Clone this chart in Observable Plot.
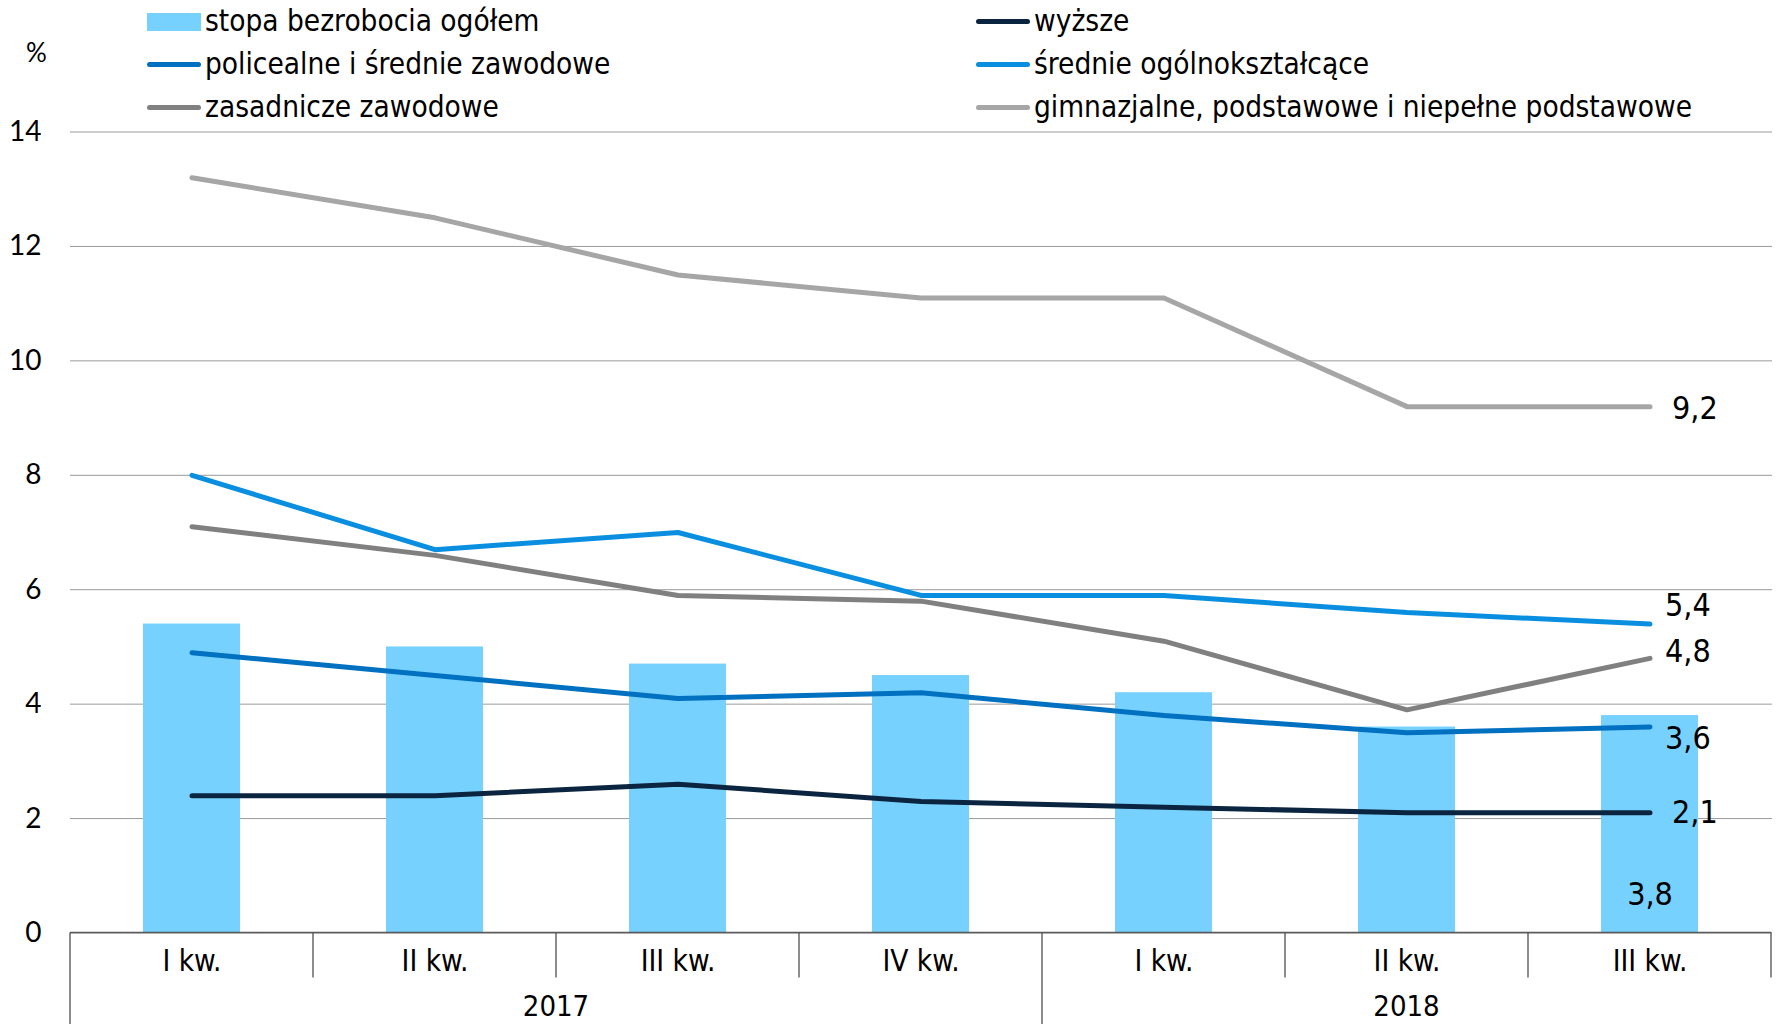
<!DOCTYPE html>
<html><head><meta charset="utf-8">
<script src="https://cdn.jsdelivr.net/npm/d3@7"></script>
<script src="https://cdn.jsdelivr.net/npm/@observablehq/plot@0.6"></script>
<style>
body{margin:0;background:#fff;}
#wrap{position:relative;width:1779px;height:1024px;font-family:"Liberation Sans Narrow","DejaVu Sans Condensed","DejaVu Sans",sans-serif;font-stretch:condensed;color:#000;}
#legend{position:relative;height:118px;}
.item{position:absolute;height:43px;line-height:43px;font-size:29.5px;white-space:nowrap;display:flex;align-items:center;}
.sw{display:inline-block;width:54px;margin-right:4px;}
.sw.bar{height:18px;}
.sw.line{height:5px;border-radius:3px;}
#pct{position:absolute;left:26px;top:36px;font-size:26px;font-family:Lato,"DejaVu Sans",sans-serif;}
#chart svg{display:block;}
</style></head><body>
<div id="wrap"><div id="legend"></div><div id="pct">%</div><div id="chart"></div></div>
<script>
const quarters = ["I kw.","II kw.","III kw.","IV kw.","I kw.","II kw.","III kw."];
const years = ["2017","2017","2017","2017","2018","2018","2018"];
const total = [5.4,5.0,4.7,4.5,4.2,3.6,3.8];
const wyzsze = [2.4,2.4,2.6,2.3,2.2,2.1,2.1];
const policealne = [4.9,4.5,4.1,4.2,3.8,3.5,3.6];
const srednieOgolne = [8.0,6.7,7.0,5.9,5.9,5.6,5.4];
const zasadnicze = [7.1,6.6,5.9,5.8,5.1,3.9,4.8];
const gimnazjalne = [13.2,12.5,11.5,11.1,11.1,9.2,9.2];
const yTicks = [0,2,4,6,8,10,12,14];

const barName = "stopa bezrobocia ogółem";
const seriesNames = ["wyższe","policealne i średnie zawodowe","średnie ogólnokształcące","zasadnicze zawodowe","gimnazjalne, podstawowe i niepełne podstawowe"];
const seriesValues = [wyzsze, policealne, srednieOgolne, zasadnicze, gimnazjalne];
const seriesColors = ["#0B2540","#0070C0","#0A8FE0","#808080","#A6A6A6"];
const barColor = "#77D1FF";

const keys = quarters.map((q,i)=>years[i]+"|"+q);
const bars = keys.map((k,i)=>({key:k, value:total[i]}));
const lines = seriesNames.flatMap((s,j)=>keys.map((k,i)=>({key:k, series:s, value:seriesValues[j][i]})));
const last = (j)=>({key:keys[keys.length-1], value:seriesValues[j][keys.length-1]});
const fmt = v => v.toFixed(1).replace(".", ",");

// legend
const legendItems = [
  {name:barName, color:barColor, bar:true, col:0, row:0},
  {name:seriesNames[0], color:seriesColors[0], col:1, row:0},
  {name:seriesNames[1], color:seriesColors[1], col:0, row:1},
  {name:seriesNames[2], color:seriesColors[2], col:1, row:1},
  {name:seriesNames[3], color:seriesColors[3], col:0, row:2},
  {name:seriesNames[4], color:seriesColors[4], col:1, row:2},
];
const colX = [147, 976];
const leg = document.getElementById("legend");
for (const it of legendItems) {
  const d = document.createElement("div");
  d.className = "item";
  d.style.left = colX[it.col] + "px";
  d.style.top = (it.row*43) + "px";
  d.innerHTML = `<span class="sw ${it.bar?"bar":"line"}" style="background:${it.color}"></span><span>${it.name}</span>`;
  leg.appendChild(d);
}

const FONT = '"Liberation Sans Narrow","DejaVu Sans Condensed","DejaVu Sans",sans-serif';

function frame(index, scales, values, dimensions) {
  const x = scales.x, y = scales.y;
  const step = x(keys[1]) - x(keys[0]);
  let bw = x.bandwidth; if (typeof bw === "function") bw = bw(); if (!(bw >= 0)) bw = step*0.4;
  const y0 = y(0);
  const g = d3.create("svg:g");
  const H = dimensions.height;
  keys.forEach((k,i)=>{
    const left = x(k) + bw/2 - step/2;
    const isYearStart = i===0 || years[i]!==years[i-1];
    g.append("line").attr("x1",left).attr("x2",left).attr("y1",y0).attr("y2", isYearStart ? H : y0+45)
      .attr("stroke","#404040").attr("stroke-width",1.2);
  });
  const rightEdge = x(keys[keys.length-1]) + bw/2 + step/2;
  g.append("line").attr("x1",rightEdge).attr("x2",rightEdge).attr("y1",y0).attr("y2",y0+45)
    .attr("stroke","#404040").attr("stroke-width",1.2);
  const uy = [...new Set(years)];
  uy.forEach(yr=>{
    const idx = years.map((v,i)=>v===yr?i:-1).filter(i=>i>=0);
    const l = x(keys[idx[0]]) + bw/2 - step/2;
    const r = x(keys[idx[idx.length-1]]) + bw/2 + step/2;
    g.append("text").attr("x",(l+r)/2).attr("y",y0+73).attr("text-anchor","middle").attr("dy","0.35em")
      .attr("font-size",29).attr("font-family",FONT).attr("font-stretch","condensed").attr("fill","#000").text(yr);
  });
  g.append("line").attr("x1",dimensions.marginLeft).attr("x2",rightEdge).attr("y1",y0).attr("y2",y0)
    .attr("stroke","#595959").attr("stroke-width",1.5);
  return g.node();
}

const lblStyle = {fontSize:32, fill:"#000", fontFamily:FONT, textAnchor:"start"};

const plot = Plot.plot({
  width: 1779,
  height: 906,
  marginTop: 13.5,
  marginBottom: 91.5,
  marginLeft: 70,
  marginRight: 7,
  style: {fontFamily: FONT, background: "#fff", overflow: "visible"},
  x: {type:"band", domain: keys, paddingInner: 0.6, paddingOuter: 0.3},
  y: {domain:[0,14]},
  color: {domain: seriesNames, range: seriesColors},
  marks: [
    Plot.gridY(yTicks, {stroke:"#9a9a9a", strokeOpacity:1, strokeWidth:1}),
    Plot.barY(bars, {x:"key", y:"value", fill: barColor}),
    Plot.lineY(lines, {x:"key", y:"value", z:"series", stroke:"series", strokeWidth:5, strokeLinecap:"round", strokeLinejoin:"round"}),
    frame,
    Plot.axisY(yTicks, {tickSize:0, tickPadding:29, fontSize:28, fontFamily:"Lato, 'DejaVu Sans', sans-serif", label:null, tickFormat: d=>String(d), fill:"#000"}),
    Plot.axisX({tickSize:0, tickPadding:17, fontSize:29.5, label:null, tickFormat: k=>k.split("|")[1], fill:"#000"}),
    Plot.text([last(4)], {x:"key", y:"value", text:d=>fmt(d.value), ...lblStyle, dx:22, dy:2}),
    Plot.text([last(2)], {x:"key", y:"value", text:d=>fmt(d.value), ...lblStyle, dx:15, dy:-18}),
    Plot.text([last(3)], {x:"key", y:"value", text:d=>fmt(d.value), ...lblStyle, dx:15, dy:-7}),
    Plot.text([last(1)], {x:"key", y:"value", text:d=>fmt(d.value), ...lblStyle, dx:15, dy:12}),
    Plot.text([last(0)], {x:"key", y:"value", text:d=>fmt(d.value), ...lblStyle, dx:22, dy:0}),
    Plot.text([bars[bars.length-1]], {x:"key", y:0, text:d=>fmt(d.value), fontSize:32, fill:"#000", fontFamily:FONT, dy:-38})
  ]
});
document.getElementById("chart").appendChild(plot);
</script>
</body></html>
